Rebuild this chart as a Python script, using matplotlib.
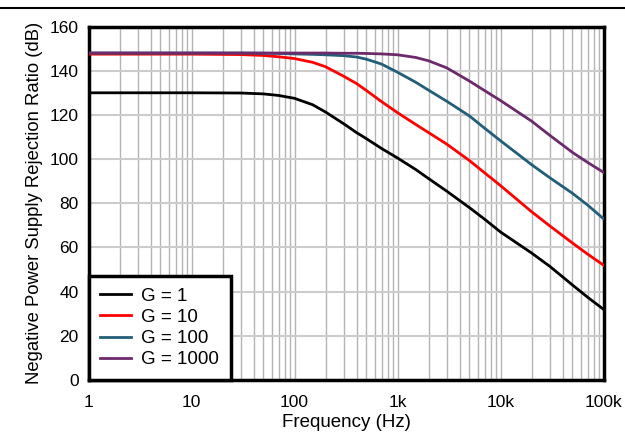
import matplotlib
matplotlib.use("Agg")
import matplotlib.pyplot as plt
from matplotlib.lines import Line2D
from matplotlib.ticker import FixedLocator, LogLocator, NullFormatter

plt.rcParams['font.family'] = ['Liberation Sans', 'DejaVu Sans']

freq = [1, 10, 30, 50, 70, 100, 150, 200, 300, 400, 500, 700, 1000, 1500, 2000,
        3000, 5000, 7000, 10000, 20000, 30000, 50000, 70000, 100000]

g1 = [130, 130, 129.9, 129.5, 128.8, 127.5, 124.6, 121.3, 116, 112, 109.2, 104.8, 100.5,
      95.3, 91.2, 85.5, 78, 72.8, 67, 57.5, 51.5, 43, 37.5, 32]
g10 = [147.5, 147.5, 147.3, 146.9, 146.3, 145.5, 143.8, 141.8, 137.5, 134.2, 131, 126, 121,
       115.7, 112, 106.8, 99.3, 93.8, 88, 76.2, 69.8, 62, 57, 52]
g100 = [148, 148, 148, 147.9, 147.8, 147.6, 147.4, 147.2, 146.8, 146.2, 145.2, 143, 139.3,
        134.8, 131.2, 126.2, 119.5, 114, 108.3, 97.5, 91.6, 84.5, 79.2, 73]
g1000 = [148, 148, 148, 148, 148, 148, 148, 148, 147.9, 147.9, 147.8, 147.6, 147.2,
         146, 144.5, 141.3, 135.3, 131, 126.5, 117.2, 110.8, 103, 98.5, 94]

series = [("G = 1", g1, "#000000"), ("G = 10", g10, "#FF0000"),
          ("G = 100", g100, "#225E79"), ("G = 1000", g1000, "#6C2A6C")]

xticks = [1, 10, 100, 1000, 10000, 100000]
xticklabels = ["1", "10", "100", "1k", "10k", "100k"]
yticks = [0, 20, 40, 60, 80, 100, 120, 140, 160]

fig = plt.figure(figsize=(6.25, 4.34), dpi=100)
ax = fig.add_axes([0.1416, 0.1244, 0.824, 0.8145])

for label, vals, col in series:
    ax.plot(freq, vals, color=col, lw=2, label=label, zorder=3,
            solid_joinstyle='round')

ax.set_xscale('log')
ax.set_xlim(1, 100000)
ax.set_ylim(0, 160)
ax.xaxis.set_major_locator(FixedLocator(xticks))
ax.set_xticklabels(xticklabels)
ax.xaxis.set_minor_locator(LogLocator(base=10, subs=range(2, 10), numticks=20))
ax.xaxis.set_minor_formatter(NullFormatter())
ax.set_yticks(yticks)
ax.tick_params(axis='both', which='both', length=0, labelsize=12.5)
ax.tick_params(axis='x', pad=11)
ax.tick_params(axis='y', pad=7)

ax.grid(axis='x', which='both', color='#b4b4b4', lw=1)
ax.grid(axis='y', which='major', color='#cccccc', lw=1.5)
ax.set_axisbelow(True)

for s in ax.spines.values():
    s.set_linewidth(2.5)
    s.set_color('black')

ax.set_xlabel("Frequency (Hz)", fontsize=13.5, labelpad=3)
ax.set_ylabel("Negative Power Supply Rejection Ratio (dB)", fontsize=13.3, labelpad=5)

leg = ax.legend(loc='lower left', bbox_to_anchor=(0, 0), borderaxespad=0,
                fancybox=False, frameon=True, fontsize=13.5, handlelength=1.65,
                handletextpad=0.55, labelspacing=0.22, borderpad=0.62)
leg.get_frame().set_edgecolor('black')
leg.get_frame().set_linewidth(2.5)
leg.get_frame().set_alpha(1)
leg.set_zorder(5)

fig.add_artist(Line2D([0, 1], [1 - 8 / 434, 1 - 8 / 434], color='black', lw=1.5))

fig.savefig("out.png", dpi=100)
